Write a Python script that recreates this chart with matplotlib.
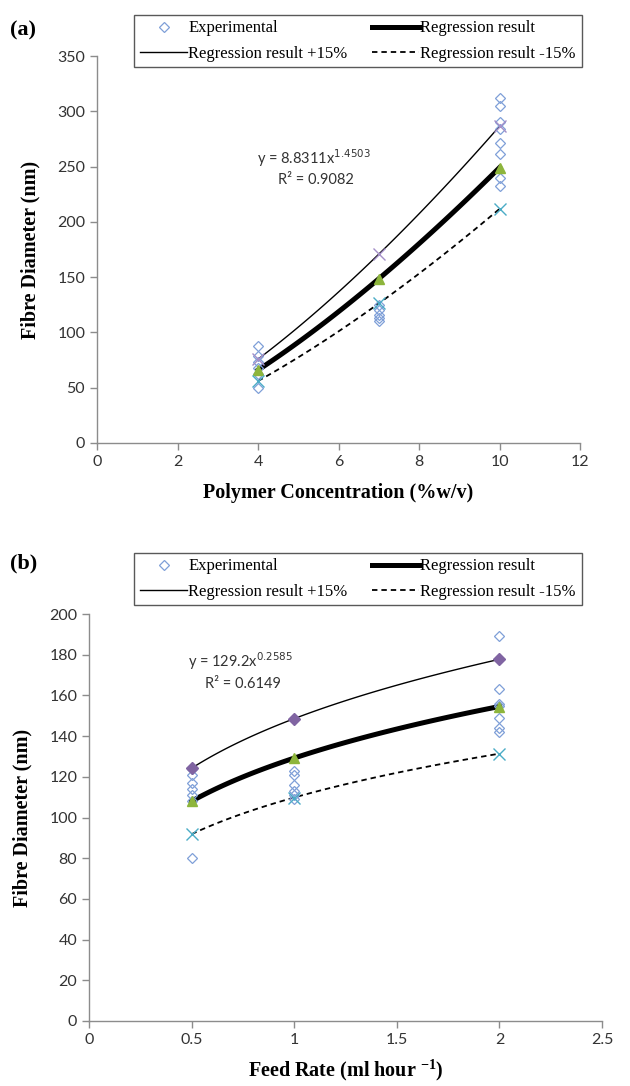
import numpy as np
import matplotlib
matplotlib.use("Agg")
import matplotlib.pyplot as plt
from matplotlib.lines import Line2D

plt.rcParams["mathtext.fontset"] = "custom"
plt.rcParams["mathtext.rm"] = "Liberation Serif"
plt.rcParams["mathtext.bf"] = "Liberation Serif:bold"
plt.rcParams["mathtext.it"] = "Liberation Serif:italic"

# ---- data ----
# panel (a): polymer concentration
conc_levels = [4, 7, 10]
exp_a_x = [4, 4, 4, 4, 4, 4, 7, 7, 7, 7, 7, 10, 10, 10, 10, 10, 10, 10, 10]
exp_a_y = [88, 79, 73, 68, 62, 50, 125, 120, 116, 113, 110,
           312, 305, 290, 284, 271, 261, 240, 232]
fit_a = [66.1, 148.5, 249.1]
fit_a_hi = [76.0, 170.8, 286.5]
fit_a_lo = [56.2, 126.2, 211.7]
coef_a, expo_a = 8.8311, 1.4503

# panel (b): feed rate
rate_levels = [0.5, 1, 2]
exp_b_x = [0.5, 0.5, 0.5, 0.5, 0.5, 0.5, 0.5, 1, 1, 1, 1, 1, 1,
           2, 2, 2, 2, 2, 2, 2]
exp_b_y = [124, 121, 117, 114, 111, 108, 80, 123, 121, 116, 113, 111, 109,
           189, 163, 156, 149, 144, 142, 155]
fit_b = [108.0, 129.2, 154.5]
fit_b_hi = [124.2, 148.6, 177.7]
fit_b_lo = [91.8, 109.8, 131.4]
coef_b, expo_b = 129.2, 0.2585

SERIF = "Liberation Serif"
SANS = "Lato"
EXP_COL = "#7F9FD8"
GREEN = "#8DB53C"
PURPLE = "#8064A2"
CYAN = "#4BACC6"
AX_COL = "#8C8C8C"
TXT_COL = "#333333"

W, H = 630, 1086
fig = plt.figure(figsize=(W / 100, H / 100), dpi=100)


def px_axes(l, r, t, b):
    return fig.add_axes([l / W, 1 - b / H, (r - l) / W, (b - t) / H])


def style(ax):
    for s in ["top", "right"]:
        ax.spines[s].set_visible(False)
    for s in ["left", "bottom"]:
        ax.spines[s].set_color(AX_COL)
        ax.spines[s].set_linewidth(1.0)
    ax.tick_params(direction="out", length=5, width=1, color=AX_COL,
                   labelcolor=TXT_COL, labelsize=11.5)
    for lab in ax.get_xticklabels() + ax.get_yticklabels():
        lab.set_fontfamily(SANS)


def draw_panel(ax, lev, ex, ey, fit, hi, lo, coef, expo, hi_marker):
    xs = np.linspace(lev[0], lev[-1], 100)
    trend = coef * xs ** expo
    ax.plot(ex, ey, linestyle="none", marker="D", ms=5, mfc="none",
            mec=EXP_COL, mew=0.9, zorder=3)
    ax.plot(xs, trend * 1.15, color="black", lw=1.0, zorder=2)
    ax.plot(xs, trend, color="black", lw=3.6, zorder=2)
    ax.plot(xs, trend * 0.85, color="black", lw=1.3, ls=(0, (3, 2.2)), zorder=2)
    ax.plot(lev, fit, linestyle="none", marker="^", ms=7, color=GREEN, zorder=4)
    if hi_marker == "D":
        ax.plot(lev, hi, linestyle="none", marker="D", ms=6, color=PURPLE, zorder=4)
    else:
        ax.plot(lev, hi, linestyle="none", marker="x", ms=8, mew=1.0,
                color="#A48FC8", zorder=4)
    ax.plot(lev, lo, linestyle="none", marker="x", ms=9, mew=1.0, color=CYAN, zorder=4)


legend_handles = [
    Line2D([], [], ls="none", marker="D", ms=5, mfc="none", mec=EXP_COL, mew=0.9),
    Line2D([], [], color="black", lw=1.0),
    Line2D([], [], color="black", lw=3.6),
    Line2D([], [], color="black", lw=1.3, ls=(0, (3, 2.2))),
]
legend_labels = ["Experimental", "Regression result +15%",
                 "Regression result", "Regression result -15%"]


def add_legend(top, bottom):
    leg = fig.legend(legend_handles, legend_labels, ncol=2, mode="expand",
                     loc="center", bbox_to_anchor=(126 / W, 1 - bottom / H,
                                                   (590 - 126) / W, (bottom - top) / H),
                     prop={"family": SERIF, "size": 12}, frameon=True,
                     fancybox=False, edgecolor="#303030", handlelength=2.8,
                     handletextpad=0.1, labelspacing=0.55, borderpad=0.35,
                     columnspacing=1.5)
    leg.get_frame().set_linewidth(1.0)
    return leg


# ---- panel (a) ----
ax1 = px_axes(97, 580, 56, 443)
draw_panel(ax1, conc_levels, exp_a_x, exp_a_y, fit_a, fit_a_hi, fit_a_lo,
           coef_a, expo_a, "x")
ax1.set_xlim(0, 12)
ax1.set_ylim(0, 350)
ax1.set_xticks(np.arange(0, 13, 2))
ax1.set_yticks(np.arange(0, 351, 50))
style(ax1)
ax1.set_xlabel("Polymer Concentration (%w/v)", family=SERIF, fontweight="bold",
               fontsize=14.5, labelpad=10)
ax1.set_ylabel("Fibre Diameter (nm)", family=SERIF, fontweight="bold",
               fontsize=14.5, labelpad=12)
ax1.text(5.4, 258, "y = 8.8311x$^{1.4503}$", family=SANS, fontsize=10.5,
         color=TXT_COL, ha="center", va="center", math_fontfamily="dejavusans")
ax1.text(5.45, 238, "R² = 0.9082", family=SANS, fontsize=10.5,
         color=TXT_COL, ha="center", va="center")
fig.text(10 / W, 1 - 30 / H, "(a)", family=SERIF, fontweight="bold",
         fontsize=16, ha="left", va="center")
add_legend(12, 70)

# ---- panel (b) ----
ax2 = px_axes(89, 602, 614, 1021)
draw_panel(ax2, rate_levels, exp_b_x, exp_b_y, fit_b, fit_b_hi, fit_b_lo,
           coef_b, expo_b, "D")
ax2.set_xlim(0, 2.5)
ax2.set_ylim(0, 200)
ax2.set_xticks([0, 0.5, 1, 1.5, 2, 2.5])
ax2.set_xticklabels(["0", "0.5", "1", "1.5", "2", "2.5"])
ax2.set_yticks(np.arange(0, 201, 20))
style(ax2)
ax2.set_xlabel(r"Feed Rate (ml hour $^{\mathbf{-1}}$)", family=SERIF,
               fontweight="bold", fontsize=14.5, labelpad=8)
ax2.set_ylabel("Fibre Diameter (nm)", family=SERIF, fontweight="bold",
               fontsize=14.5, labelpad=12)
ax2.text(0.74, 177, "y = 129.2x$^{0.2585}$", family=SANS, fontsize=10.5,
         color=TXT_COL, ha="center", va="center", math_fontfamily="dejavusans")
ax2.text(0.75, 165.5, "R² = 0.6149", family=SANS, fontsize=10.5,
         color=TXT_COL, ha="center", va="center")
fig.text(10 / W, 1 - 563 / H, "(b)", family=SERIF, fontweight="bold",
         fontsize=16, ha="left", va="center")
add_legend(550, 608)

fig.savefig("out.png", dpi=100)
